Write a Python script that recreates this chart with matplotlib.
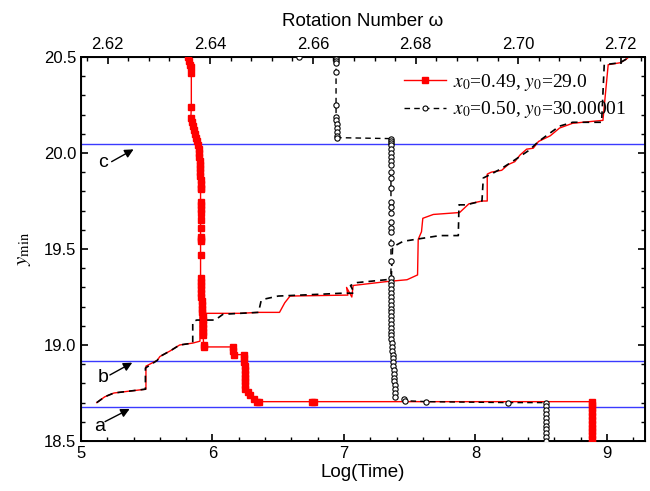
import numpy as np
import matplotlib
matplotlib.use("Agg")
import matplotlib.pyplot as plt
from matplotlib.lines import Line2D
from matplotlib.ticker import MultipleLocator, AutoMinorLocator, FormatStrFormatter

plt.rcParams['font.family'] = ['Liberation Sans', 'DejaVu Sans']
plt.rcParams['mathtext.fontset'] = 'stix'

# ymin staircase against log(time) - bottom axis
red_logt = [5.12, 5.18, 5.25, 5.37, 5.494, 5.494, 5.58, 5.60, 5.68, 5.75, 5.85, 5.905, 5.905,
            6.21, 6.35, 6.51, 6.55, 6.59, 7.03, 7.02, 7.06, 7.07, 7.32, 7.48, 7.56, 7.565,
            7.59, 7.60, 7.68, 7.88, 7.95, 8.05, 8.09, 8.09, 8.12, 8.20, 8.25, 8.30, 8.34,
            8.39, 8.44, 8.48, 8.57, 8.64, 8.74, 8.97, 9.01, 9.10, 9.15, 9.18]
red_ymin = [18.70, 18.73, 18.75, 18.76, 18.77, 18.89, 18.92, 18.94, 18.97, 19.00, 19.01, 19.02, 19.165,
            19.165, 19.17, 19.17, 19.22, 19.255, 19.26, 19.30, 19.25, 19.31, 19.33, 19.34, 19.365, 19.55,
            19.59, 19.66, 19.68, 19.69, 19.735, 19.75, 19.75, 19.89, 19.90, 19.91, 19.94, 19.955, 19.99,
            20.02, 20.025, 20.06, 20.09, 20.13, 20.155, 20.17, 20.46, 20.47, 20.49, 20.51]

black_logt = [5.12, 5.18, 5.25, 5.37, 5.49, 5.49, 5.58, 5.60, 5.68, 5.75, 5.85, 5.85, 5.88, 6.02,
              6.08, 6.21, 6.35, 6.37, 6.40, 6.50, 6.84, 6.99, 7.08, 7.05, 7.10, 7.32, 7.36, 7.37,
              7.45, 7.73, 7.87, 7.875, 7.93, 8.05, 8.06, 8.12, 8.20, 8.28, 8.41, 8.48, 8.64, 8.74,
              8.96, 8.98, 9.10, 9.20]
black_ymin = [18.70, 18.73, 18.75, 18.76, 18.77, 18.88, 18.92, 18.94, 18.97, 19.00, 19.01, 19.12, 19.13, 19.13,
              19.16, 19.165, 19.17, 19.23, 19.24, 19.255, 19.265, 19.27, 19.27, 19.31, 19.325, 19.34, 19.35, 19.51,
              19.54, 19.57, 19.57, 19.73, 19.73, 19.75, 19.87, 19.89, 19.92, 19.955, 20.015, 20.06, 20.14, 20.16,
              20.16, 20.46, 20.47, 20.51]

# ymin against rotation number - top axis
red_w = [2.6356, 2.6359, 2.6361, 2.6363, 2.6363, 2.6363, 2.6362, 2.6364, 2.6366, 2.6368, 2.6370,
         2.6373, 2.6375, 2.6376, 2.6377, 2.6378, 2.6378, 2.6379, 2.6379, 2.6380, 2.6380, 2.6380,
         2.6381, 2.6381, 2.6381, 2.6381, 2.6381, 2.6381, 2.6381, 2.6381, 2.6381, 2.6381, 2.6381,
         2.6381, 2.6381, 2.6381, 2.6381, 2.6381, 2.6381, 2.6382, 2.6382, 2.6382, 2.6383, 2.6383,
         2.6384, 2.6384, 2.6385, 2.6385, 2.6386, 2.6386, 2.6386, 2.6386, 2.6387, 2.6387,
         2.6445, 2.6445, 2.6446, 2.6466, 2.6466, 2.6466, 2.6467, 2.6467, 2.6467, 2.6467, 2.6468,
         2.6468, 2.6468, 2.6473, 2.6478, 2.6485, 2.6491, 2.6494, 2.6598, 2.6602, 2.7144, 2.7144,
         2.7144, 2.7144, 2.7144, 2.7144, 2.7144, 2.7144, 2.7144, 2.7144, 2.7144, 2.7144]
red_y = [20.50, 20.48, 20.46, 20.45, 20.415, 20.24, 20.18, 20.16, 20.14, 20.12, 20.10,
         20.08, 20.06, 20.04, 20.02, 20.00, 19.98, 19.96, 19.94, 19.92, 19.90, 19.88,
         19.86, 19.84, 19.82, 19.81, 19.745, 19.73, 19.71, 19.69, 19.65, 19.61, 19.565,
         19.55, 19.54, 19.47, 19.35, 19.33, 19.31, 19.29, 19.27, 19.25, 19.23, 19.21,
         19.19, 19.17, 19.15, 19.13, 19.11, 19.09, 19.07, 19.05, 19.00, 18.99,
         18.99, 18.97, 18.95, 18.95, 18.93, 18.91, 18.89, 18.87, 18.85, 18.83, 18.81,
         18.79, 18.77, 18.755, 18.74, 18.72, 18.705, 18.705, 18.705, 18.705, 18.705, 18.69,
         18.67, 18.65, 18.63, 18.61, 18.59, 18.57, 18.55, 18.53, 18.51, 18.49]

black_w = [2.6573, 2.6645, 2.6645, 2.6645, 2.6645, 2.6645, 2.6645, 2.6645, 2.6645, 2.6646, 2.6646,
           2.6646, 2.6647, 2.6647, 2.6752, 2.6752, 2.6752, 2.6752, 2.6752, 2.6752, 2.6752, 2.6752,
           2.6752, 2.6752, 2.6752, 2.6752, 2.6752, 2.6752, 2.6752, 2.6752, 2.6752, 2.6752, 2.6752,
           2.6752, 2.6752, 2.6752, 2.6752, 2.6752, 2.6752, 2.6752, 2.6752, 2.6752, 2.6752, 2.6752,
           2.6752, 2.6752, 2.6752, 2.6752, 2.6753, 2.6753, 2.6753, 2.6754, 2.6754, 2.6754, 2.6755,
           2.6755, 2.6756, 2.6756, 2.6757, 2.6757, 2.6758, 2.6758, 2.6759, 2.6759, 2.6760, 2.6760,
           2.6778, 2.6779, 2.6821, 2.6980, 2.7055, 2.7055, 2.7055, 2.7055, 2.7055, 2.7055, 2.7055,
           2.7055, 2.7055, 2.7055, 2.7055, 2.7055]
black_y = [20.50, 20.50, 20.49, 20.48, 20.47, 20.42, 20.25, 20.19, 20.17, 20.15, 20.13,
           20.11, 20.09, 20.08, 20.075, 20.06, 20.05, 20.04, 20.02, 20.00, 19.98, 19.96,
           19.94, 19.90, 19.87, 19.82, 19.745, 19.72, 19.69, 19.64, 19.61, 19.59, 19.53,
           19.44, 19.35, 19.33, 19.31, 19.29, 19.27, 19.25, 19.23, 19.21, 19.19, 19.17,
           19.15, 19.13, 19.11, 19.09, 19.07, 19.05, 19.03, 19.01, 18.99, 18.97, 18.95,
           18.93, 18.91, 18.89, 18.87, 18.85, 18.83, 18.81, 18.79, 18.77, 18.75, 18.73,
           18.72, 18.71, 18.705, 18.70, 18.70, 18.68, 18.66, 18.64, 18.62, 18.60, 18.58,
           18.56, 18.54, 18.52, 18.50, 18.48]

hline_levels = [18.675, 18.915, 20.045]
hline_names = ['a', 'b', 'c']
label_red = r'$x_0$=0.49, $y_0$=29.0'
label_black = r'$x_0$=0.50, $y_0$=30.00001'

fig = plt.figure(figsize=(6.5, 4.91), dpi=100)
ax = fig.add_axes([0.1246, 0.1018, 0.8677, 0.7821])

for lev in hline_levels:
    ax.axhline(lev, color='#3a3aff', lw=1.0, zorder=1)

ax.plot(red_logt, red_ymin, color='red', lw=1.0, zorder=2)
ax.plot(black_logt, black_ymin, color='black', lw=1.2, ls=(0, (4, 3)), zorder=3)

ax.set_xlim(5, 9.29)
ax.set_ylim(18.5, 20.5)
ax.xaxis.set_major_locator(MultipleLocator(1))
ax.xaxis.set_minor_locator(MultipleLocator(0.2))
ax.yaxis.set_major_locator(MultipleLocator(0.5))
ax.yaxis.set_minor_locator(MultipleLocator(0.1))
ax.yaxis.set_major_formatter(FormatStrFormatter('%.1f'))
ax.tick_params(which='both', direction='in', top=False, right=True, labelsize=12)
ax.tick_params(which='major', length=5, width=1.2)
ax.tick_params(which='minor', length=3, width=1.0)
ax.set_xlabel('Log(Time)', fontsize=13.5, labelpad=2)
ax.set_ylabel(r'$y_{\rm min}$', fontsize=15, labelpad=8)
for s in ax.spines.values():
    s.set_linewidth(1.4)

# annotations a, b, c : letter, arrow tail, arrow tip
text_pos = [(5.145, 18.578), (5.167, 18.833), (5.167, 19.948)]
arrow_tail = [(5.183, 18.601), (5.22, 18.844), (5.233, 19.955)]
arrow_tip = [(5.37, 18.667), (5.39, 18.908), (5.40, 20.019)]
for name, tp, tail, tip in zip(hline_names, text_pos, arrow_tail, arrow_tip):
    ax.text(tp[0], tp[1], name, fontsize=14, ha='center', va='center')
    ax.annotate('', xy=tip, xytext=tail,
                arrowprops=dict(arrowstyle='-|>', color='black', lw=1.0,
                                mutation_scale=13, shrinkA=0, shrinkB=0))

ax2 = ax.twiny()
ax2.plot(red_w, red_y, color='red', lw=1.0, marker='s', ms=5.0, mec='red', mfc='red', zorder=4)
ax2.plot(black_w, black_y, color='black', lw=1.0, ls=(0, (4, 3)), marker='o', ms=3.8,
         mfc='white', mec='black', mew=0.8, zorder=5)
ax2.set_xlim(2.6148, 2.7247)
ax2.set_ylim(18.5, 20.5)
ax2.xaxis.set_major_locator(MultipleLocator(0.02))
ax2.xaxis.set_minor_locator(AutoMinorLocator(5))
ax2.xaxis.set_major_formatter(FormatStrFormatter('%.2f'))
ax2.tick_params(which='both', direction='in', labelsize=12)
ax2.tick_params(which='major', length=5, width=1.2)
ax2.tick_params(which='minor', length=3, width=1.0)
ax2.set_xlabel('Rotation Number ω', fontsize=13.5, labelpad=8)

handles = [Line2D([], [], color='red', lw=1.0, marker='s', ms=4.2),
           Line2D([], [], color='black', lw=1.0, ls=(0, (4, 3)), marker='o', ms=3.6,
                  mfc='white', mew=0.8)]
leg = ax2.legend(handles, [label_red, label_black], loc='upper left',
                 bbox_to_anchor=(0.565, 0.972), frameon=False,
                 handlelength=2.2, handletextpad=0.35, labelspacing=0.35,
                 borderaxespad=0, borderpad=0.2,
                 prop={'family': 'Liberation Serif', 'size': 14})

fig.savefig('out.png', dpi=100)
